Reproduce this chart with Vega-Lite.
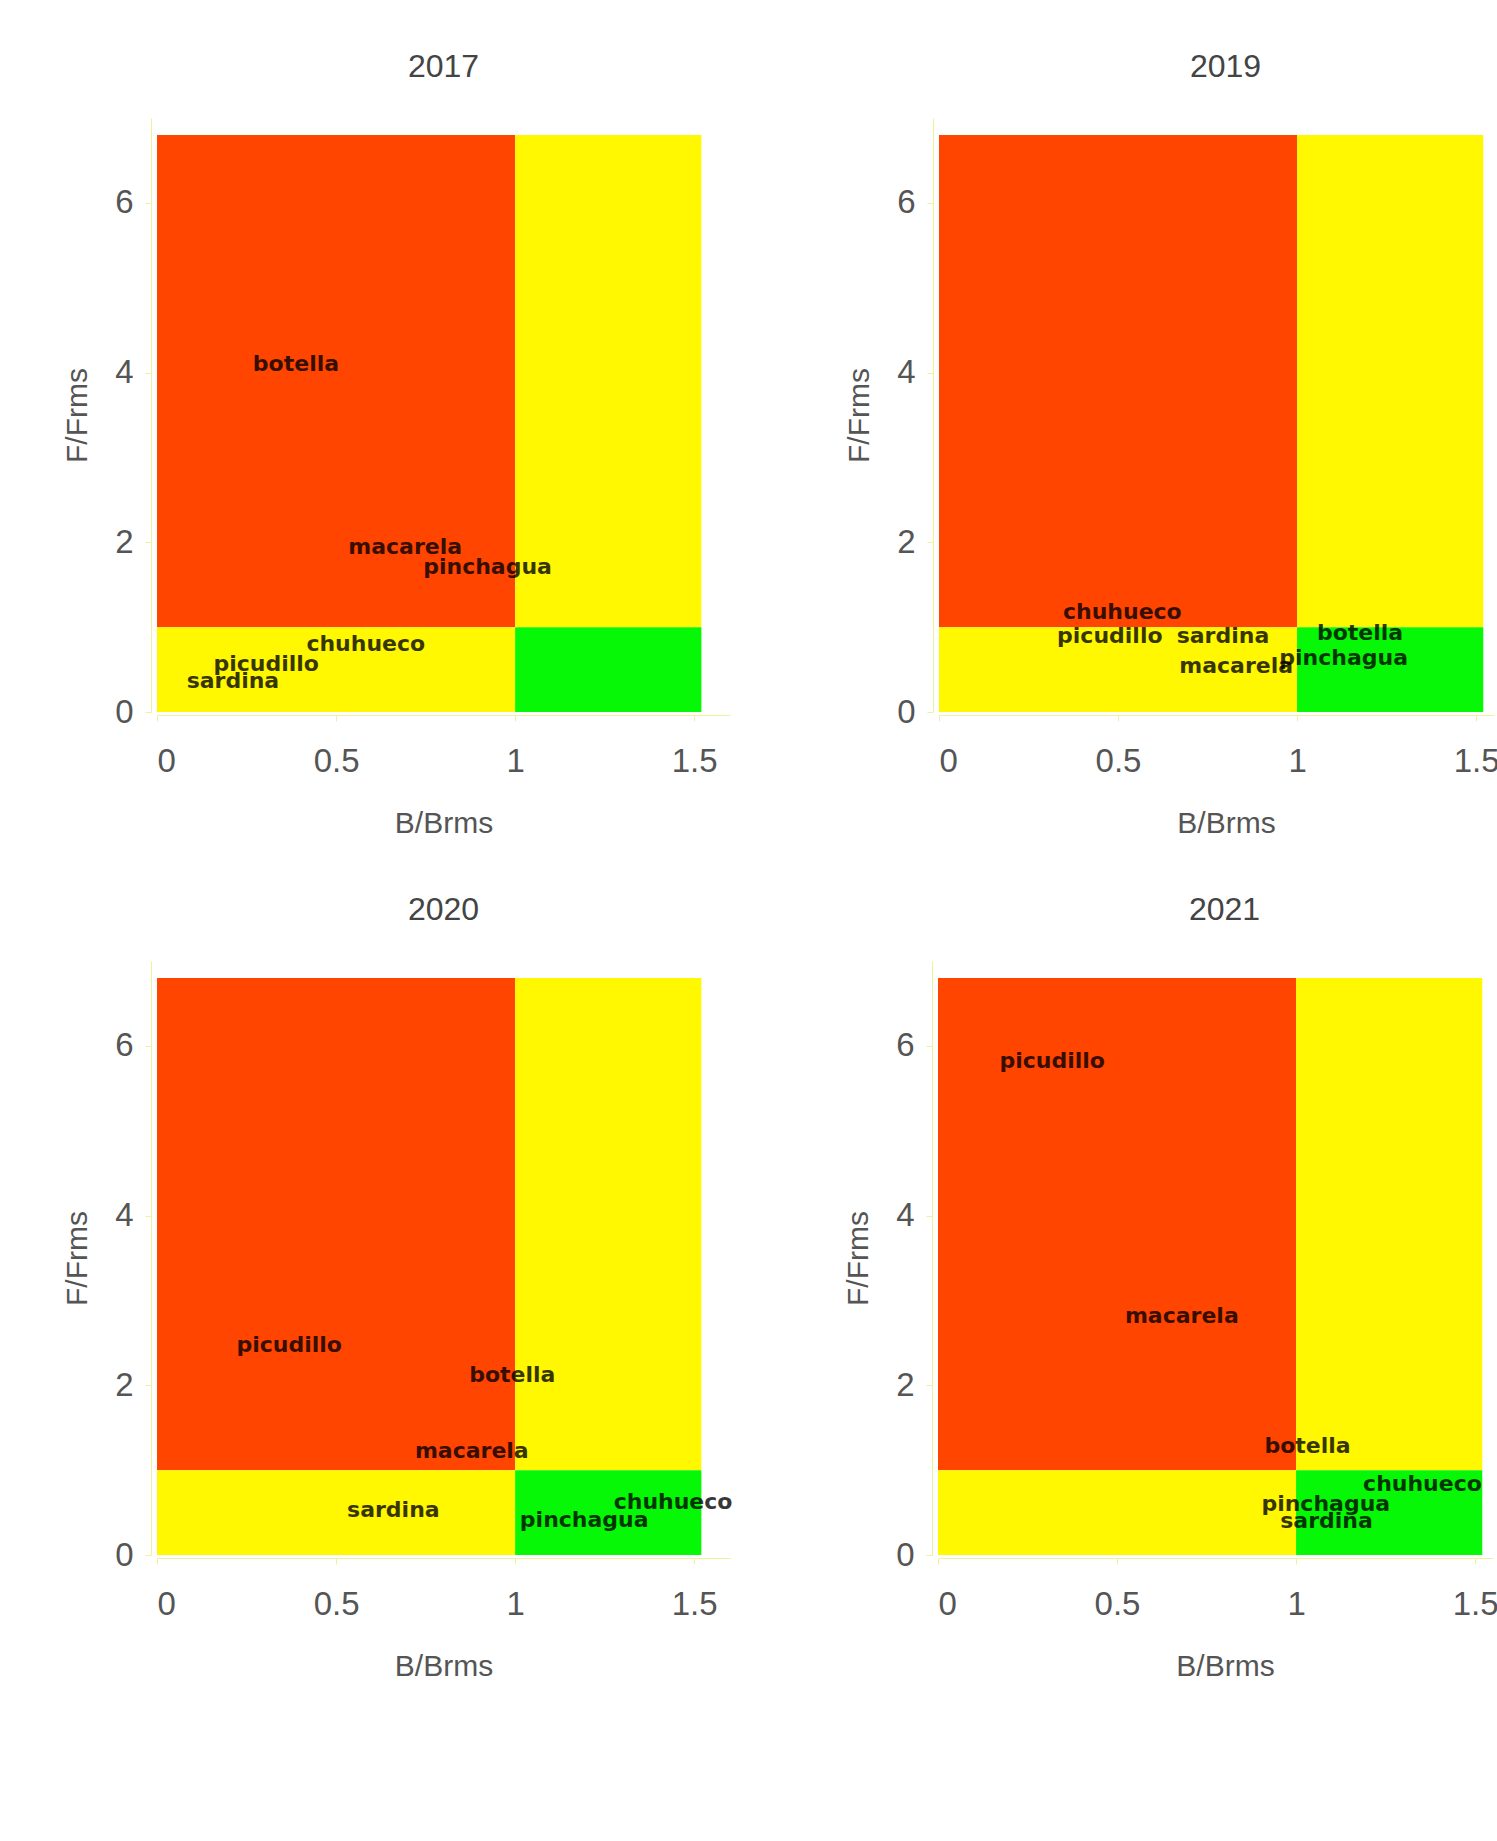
{
  "$schema": "https://vega.github.io/schema/vega-lite/v6.json",
  "padding": {"left": 62, "top": 51, "right": 0, "bottom": 0},
  "background": "white",
  "config": {
    "view": {"stroke": null},
    "font": "Liberation Sans",
    "title": {"fontSize": 32, "fontWeight": "normal", "color": "#444", "offset": 34, "font": "Liberation Sans"},
    "axis": {
      "grid": false,
      "domainColor": "#eef29a",
      "tickColor": "#eef29a",
      "tickSize": 6,
      "labelColor": "#555",
      "labelFont": "Liberation Sans",
      "labelFontSize": 33,
      "titleColor": "#555",
      "titleFont": "Liberation Sans",
      "titleFontSize": 30,
      "titleFontWeight": "normal"
    },
    "axisX": {"offset": 3, "labelPadding": 24, "titlePadding": 30},
    "axisY": {"offset": 6, "labelPadding": 12, "titlePadding": 22}
  },
  "datasets": {
    "zones": [
      {"zone": "sobreexplotado-sobrepesca", "b1": 0, "b2": 1, "f1": 1, "f2": 6.8},
      {"zone": "sobrepesca", "b1": 1, "b2": 1.52, "f1": 1, "f2": 6.8},
      {"zone": "sobreexplotado", "b1": 0, "b2": 1, "f1": 0, "f2": 1},
      {"zone": "saludable", "b1": 1, "b2": 1.52, "f1": 0, "f2": 1}
    ],
    "labels": [
      {"year": "2017", "species": "botella", "B": 0.388, "F": 4.10},
      {"year": "2017", "species": "macarela", "B": 0.693, "F": 1.94},
      {"year": "2017", "species": "pinchagua", "B": 0.923, "F": 1.71},
      {"year": "2017", "species": "chuhueco", "B": 0.583, "F": 0.80},
      {"year": "2017", "species": "picudillo", "B": 0.305, "F": 0.56},
      {"year": "2017", "species": "sardina", "B": 0.212, "F": 0.37},
      {"year": "2019", "species": "chuhueco", "B": 0.512, "F": 1.18},
      {"year": "2019", "species": "picudillo", "B": 0.477, "F": 0.90},
      {"year": "2019", "species": "sardina", "B": 0.793, "F": 0.90},
      {"year": "2019", "species": "botella", "B": 1.176, "F": 0.93},
      {"year": "2019", "species": "macarela", "B": 0.83, "F": 0.54},
      {"year": "2019", "species": "pinchagua", "B": 1.13, "F": 0.64},
      {"year": "2020", "species": "picudillo", "B": 0.369, "F": 2.48},
      {"year": "2020", "species": "botella", "B": 0.992, "F": 2.12},
      {"year": "2020", "species": "macarela", "B": 0.879, "F": 1.23},
      {"year": "2020", "species": "sardina", "B": 0.66, "F": 0.53},
      {"year": "2020", "species": "pinchagua", "B": 1.193, "F": 0.41},
      {"year": "2020", "species": "chuhueco", "B": 1.441, "F": 0.63},
      {"year": "2021", "species": "picudillo", "B": 0.319, "F": 5.82},
      {"year": "2021", "species": "macarela", "B": 0.681, "F": 2.82},
      {"year": "2021", "species": "botella", "B": 1.032, "F": 1.29},
      {"year": "2021", "species": "chuhueco", "B": 1.353, "F": 0.84},
      {"year": "2021", "species": "pinchagua", "B": 1.083, "F": 0.60},
      {"year": "2021", "species": "sardina", "B": 1.085, "F": 0.40}
    ]
  },
  "spacing": 56,
  "vconcat": [
    {
      "spacing": 114,
      "hconcat": [
        {
          "title": "2017", "width": 573, "height": 594,
          "layer": [
            {"data": {"name": "zones"}, "mark": {"type": "rect"},
             "encoding": {
               "x": {"field": "b1", "type": "quantitative", "scale": {"domain": [0, 1.6], "nice": false, "zero": false}, "title": "B/Brms", "axis": {"values": [0, 0.5, 1, 1.5], "format": "~g"}},
               "x2": {"field": "b2"},
               "y": {"field": "f1", "type": "quantitative", "scale": {"domain": [0, 7], "nice": false}, "title": "F/Frms", "axis": {"values": [0, 2, 4, 6], "format": "~g"}},
               "y2": {"field": "f2"},
               "color": {"field": "zone", "type": "nominal", "legend": null,
                 "scale": {"domain": ["sobreexplotado-sobrepesca", "sobrepesca", "sobreexplotado", "saludable"], "range": ["#ff4500", "#fff800", "#fff800", "#06f806"]}}
             }},
            {"data": {"name": "labels"}, "transform": [{"filter": "datum.year == '2017'"}],
             "mark": {"type": "text", "font": "DejaVu Sans", "fontWeight": "bold", "fontSize": 22, "color": "#000", "opacity": 0.78, "align": "center", "baseline": "middle"},
             "encoding": {"x": {"field": "B", "type": "quantitative"}, "y": {"field": "F", "type": "quantitative"}, "text": {"field": "species"}}}
          ]
        },
        {
          "title": {"text": "2019", "dx": 9}, "width": 555, "height": 594,
          "layer": [
            {"data": {"name": "zones"}, "mark": {"type": "rect"},
             "encoding": {
               "x": {"field": "b1", "type": "quantitative", "scale": {"domain": [0, 1.55], "nice": false, "zero": false}, "title": "B/Brms", "axis": {"values": [0, 0.5, 1, 1.5], "format": "~g", "titleX": 287}},
               "x2": {"field": "b2"},
               "y": {"field": "f1", "type": "quantitative", "scale": {"domain": [0, 7], "nice": false}, "title": "F/Frms", "axis": {"values": [0, 2, 4, 6], "format": "~g"}},
               "y2": {"field": "f2"},
               "color": {"field": "zone", "type": "nominal", "legend": null,
                 "scale": {"domain": ["sobreexplotado-sobrepesca", "sobrepesca", "sobreexplotado", "saludable"], "range": ["#ff4500", "#fff800", "#fff800", "#06f806"]}}
             }},
            {"data": {"name": "labels"}, "transform": [{"filter": "datum.year == '2019'"}],
             "mark": {"type": "text", "font": "DejaVu Sans", "fontWeight": "bold", "fontSize": 22, "color": "#000", "opacity": 0.78, "align": "center", "baseline": "middle"},
             "encoding": {"x": {"field": "B", "type": "quantitative"}, "y": {"field": "F", "type": "quantitative"}, "text": {"field": "species"}}}
          ]
        }
      ]
    },
    {
      "spacing": 110,
      "hconcat": [
        {
          "title": "2020", "width": 573, "height": 594,
          "layer": [
            {"data": {"name": "zones"}, "mark": {"type": "rect"},
             "encoding": {
               "x": {"field": "b1", "type": "quantitative", "scale": {"domain": [0, 1.6], "nice": false, "zero": false}, "title": "B/Brms", "axis": {"values": [0, 0.5, 1, 1.5], "format": "~g"}},
               "x2": {"field": "b2"},
               "y": {"field": "f1", "type": "quantitative", "scale": {"domain": [0, 7], "nice": false}, "title": "F/Frms", "axis": {"values": [0, 2, 4, 6], "format": "~g"}},
               "y2": {"field": "f2"},
               "color": {"field": "zone", "type": "nominal", "legend": null,
                 "scale": {"domain": ["sobreexplotado-sobrepesca", "sobrepesca", "sobreexplotado", "saludable"], "range": ["#ff4500", "#fff800", "#fff800", "#06f806"]}}
             }},
            {"data": {"name": "labels"}, "transform": [{"filter": "datum.year == '2020'"}],
             "mark": {"type": "text", "font": "DejaVu Sans", "fontWeight": "bold", "fontSize": 22, "color": "#000", "opacity": 0.78, "align": "center", "baseline": "middle"},
             "encoding": {"x": {"field": "B", "type": "quantitative"}, "y": {"field": "F", "type": "quantitative"}, "text": {"field": "species"}}}
          ]
        },
        {
          "title": {"text": "2021", "dx": 9}, "width": 555, "height": 594,
          "layer": [
            {"data": {"name": "zones"}, "mark": {"type": "rect"},
             "encoding": {
               "x": {"field": "b1", "type": "quantitative", "scale": {"domain": [0, 1.55], "nice": false, "zero": false}, "title": "B/Brms", "axis": {"values": [0, 0.5, 1, 1.5], "format": "~g", "titleX": 287}},
               "x2": {"field": "b2"},
               "y": {"field": "f1", "type": "quantitative", "scale": {"domain": [0, 7], "nice": false}, "title": "F/Frms", "axis": {"values": [0, 2, 4, 6], "format": "~g"}},
               "y2": {"field": "f2"},
               "color": {"field": "zone", "type": "nominal", "legend": null,
                 "scale": {"domain": ["sobreexplotado-sobrepesca", "sobrepesca", "sobreexplotado", "saludable"], "range": ["#ff4500", "#fff800", "#fff800", "#06f806"]}}
             }},
            {"data": {"name": "labels"}, "transform": [{"filter": "datum.year == '2021'"}],
             "mark": {"type": "text", "font": "DejaVu Sans", "fontWeight": "bold", "fontSize": 22, "color": "#000", "opacity": 0.78, "align": "center", "baseline": "middle"},
             "encoding": {"x": {"field": "B", "type": "quantitative"}, "y": {"field": "F", "type": "quantitative"}, "text": {"field": "species"}}}
          ]
        }
      ]
    }
  ]
}
